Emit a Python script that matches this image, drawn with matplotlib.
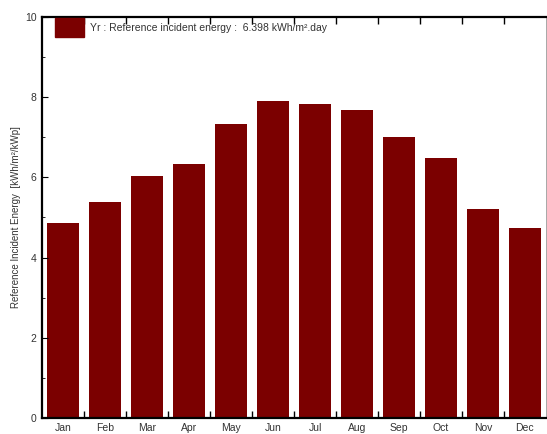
import matplotlib
matplotlib.use('Agg')
import matplotlib.pyplot as plt
from matplotlib.patches import Patch
from matplotlib.ticker import MultipleLocator

plt.rcParams['font.family'] = ['Liberation Sans', 'DejaVu Sans']

# monthly reference incident energy Yr (kWh/m2/kWp per day)
months = ['Jan', 'Feb', 'Mar', 'Apr', 'May', 'Jun',
          'Jul', 'Aug', 'Sep', 'Oct', 'Nov', 'Dec']
yr_values = [4.86, 5.39, 6.03, 6.33, 7.33, 7.90, 7.83, 7.68, 7.01, 6.48, 5.21, 4.74]
yr_mean = 6.398

bar_color = '#7b0000'
text_color = '#333333'

fig = plt.figure(figsize=(5.47, 4.34), dpi=100, facecolor='white')
ax = fig.add_axes([0.077, 0.037, 0.921, 0.924])

pos = list(range(1, len(months) + 1))
ax.bar(pos, yr_values, width=0.76, color=bar_color)

ax.set_xlim(0.5, 12.5)
ax.set_ylim(0, 10)

# month labels under bars, tick marks between months
ax.set_xticks(pos)
ax.set_xticklabels(months, fontsize=7.5, color=text_color)
ax.tick_params(axis='x', which='major', length=0, pad=4)
ax.set_xticks([p + 0.5 for p in pos[:-1]], minor=True)
ax.tick_params(axis='x', which='minor', direction='in', length=5, width=1,
               top=True, bottom=True)

ax.yaxis.set_major_locator(MultipleLocator(2))
ax.yaxis.set_minor_locator(MultipleLocator(1))
ax.tick_params(axis='y', which='major', direction='in', length=4, labelsize=7.5,
               pad=4, labelcolor=text_color)
ax.tick_params(axis='y', which='minor', direction='in', length=2)

for side in ['left', 'top', 'bottom']:
    ax.spines[side].set_linewidth(1.6)
    ax.spines[side].set_color('black')
ax.spines['right'].set_linewidth(0.6)
ax.spines['right'].set_color('#999999')

ax.set_ylabel('Reference Incident Energy  [kWh/m\u00b2/kWp]', fontsize=7,
              labelpad=3, color=text_color)

handle = Patch(facecolor=bar_color, edgecolor=bar_color)
leg = ax.legend([handle], ['Yr : Reference incident energy :  %.3f kWh/m\u00b2.day' % yr_mean],
                loc='upper left', frameon=False, fontsize=7.5, handlelength=2.8,
                handleheight=2.35, handletextpad=0.6, borderaxespad=0.1,
                bbox_to_anchor=(0.015, 1.01))
for t in leg.get_texts():
    t.set_color(text_color)

fig.savefig('out.png', dpi=100, facecolor='white')
